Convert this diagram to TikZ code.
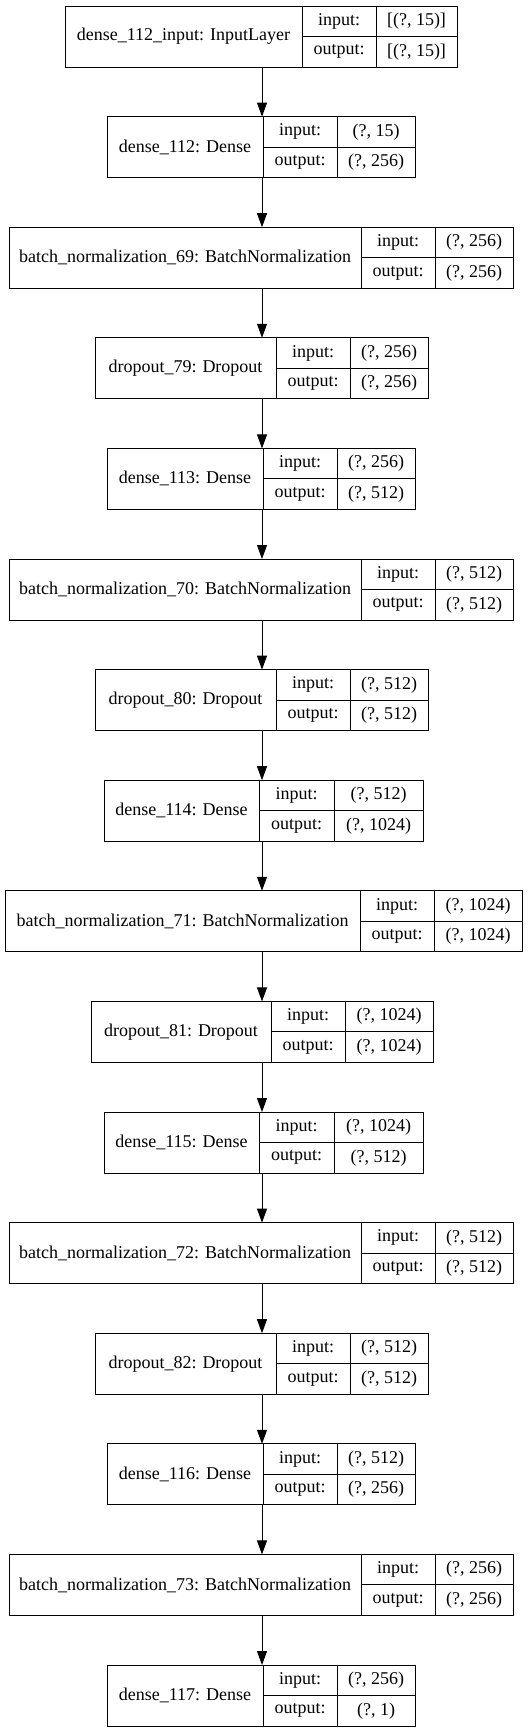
\documentclass[tikz,border=0pt]{standalone}
\usepackage{fontspec}
\setmainfont{Liberation Serif}
\usetikzlibrary{arrows.meta}
\tikzset{
  cell/.style={draw=black, line width=1pt, inner sep=0pt, outer sep=0pt, anchor=north west, align=center, font=\fontsize{18}{20}\selectfont},
  frame/.style={draw=none, inner sep=0pt, outer sep=0pt, anchor=north west},
  conn/.style={draw=black, line width=1pt, -{Triangle[length=14pt,width=10pt]}}
}
% #1 name, #2 index, #3 x0, #4 x1, #5 x2, #6 x3, #7 label, #8 input, #9 output
\newcommand\kerlayer[9]{%
  \pgfmathsetmacro\ktop{6+110.6*#2}%
  \pgfmathsetmacro\kmid{\ktop+30.5}%
  \node[frame, minimum width={#6-#3}, minimum height=61] (#1) at (#3,\ktop) {};
  \node[cell, minimum width={#4-#3}, minimum height=61] (#1-m) at (#3,\ktop) {#7};
  \node[cell, minimum width={#5-#4}, minimum height=30.5] (#1-il) at (#4,\ktop) {input:};
  \node[cell, minimum width={#6-#5}, minimum height=30.5] (#1-iv) at (#5,\ktop) {#8};
  \node[cell, minimum width={#5-#4}, minimum height=30.5] (#1-ol) at (#4,\kmid) {output:};
  \node[cell, minimum width={#6-#5}, minimum height=30.5] (#1-ov) at (#5,\kmid) {#9};
}
\begin{document}
\begin{tikzpicture}[x=1pt, y=-1pt]
\useasboundingbox (0,0) rectangle (528,1733);
\fill[white] (0,0) rectangle (528,1733);
\coordinate (axis) at (262,0);
\kerlayer{L0}{0}{65}{302}{376}{457}{dense\_112\_input: InputLayer}{[(?, 15)]}{[(?, 15)]}
\kerlayer{L1}{1}{107}{263}{337}{415}{dense\_112: Dense}{(?, 15)}{(?, 256)}
\kerlayer{L2}{2}{9}{361}{435}{513}{batch\_normalization\_69: BatchNormalization}{(?, 256)}{(?, 256)}
\kerlayer{L3}{3}{95}{276}{350}{428}{dropout\_79: Dropout}{(?, 256)}{(?, 256)}
\kerlayer{L4}{4}{107}{263}{337}{415}{dense\_113: Dense}{(?, 256)}{(?, 512)}
\kerlayer{L5}{5}{9}{361}{435}{513}{batch\_normalization\_70: BatchNormalization}{(?, 512)}{(?, 512)}
\kerlayer{L6}{6}{95}{276}{350}{428}{dropout\_80: Dropout}{(?, 512)}{(?, 512)}
\kerlayer{L7}{7}{104}{259}{334}{423}{dense\_114: Dense}{(?, 512)}{(?, 1024)}
\kerlayer{L8}{8}{5}{360}{434}{522}{batch\_normalization\_71: BatchNormalization}{(?, 1024)}{(?, 1024)}
\kerlayer{L9}{9}{91}{271}{345}{433}{dropout\_81: Dropout}{(?, 1024)}{(?, 1024)}
\kerlayer{L10}{10}{104}{259}{334}{423}{dense\_115: Dense}{(?, 1024)}{(?, 512)}
\kerlayer{L11}{11}{9}{361}{435}{513}{batch\_normalization\_72: BatchNormalization}{(?, 512)}{(?, 512)}
\kerlayer{L12}{12}{95}{276}{350}{428}{dropout\_82: Dropout}{(?, 512)}{(?, 512)}
\kerlayer{L13}{13}{107}{263}{337}{415}{dense\_116: Dense}{(?, 512)}{(?, 256)}
\kerlayer{L14}{14}{9}{361}{435}{513}{batch\_normalization\_73: BatchNormalization}{(?, 256)}{(?, 256)}
\kerlayer{L15}{15}{107}{263}{337}{415}{dense\_117: Dense}{(?, 256)}{(?, 1)}
\foreach \a/\b in {L0/L1,L1/L2,L2/L3,L3/L4,L4/L5,L5/L6,L6/L7,L7/L8,L8/L9,L9/L10,L10/L11,L11/L12,L12/L13,L13/L14,L14/L15}
  \draw[conn] (\a.south -| axis) -- (\b.north -| axis);
\end{tikzpicture}
\end{document}
